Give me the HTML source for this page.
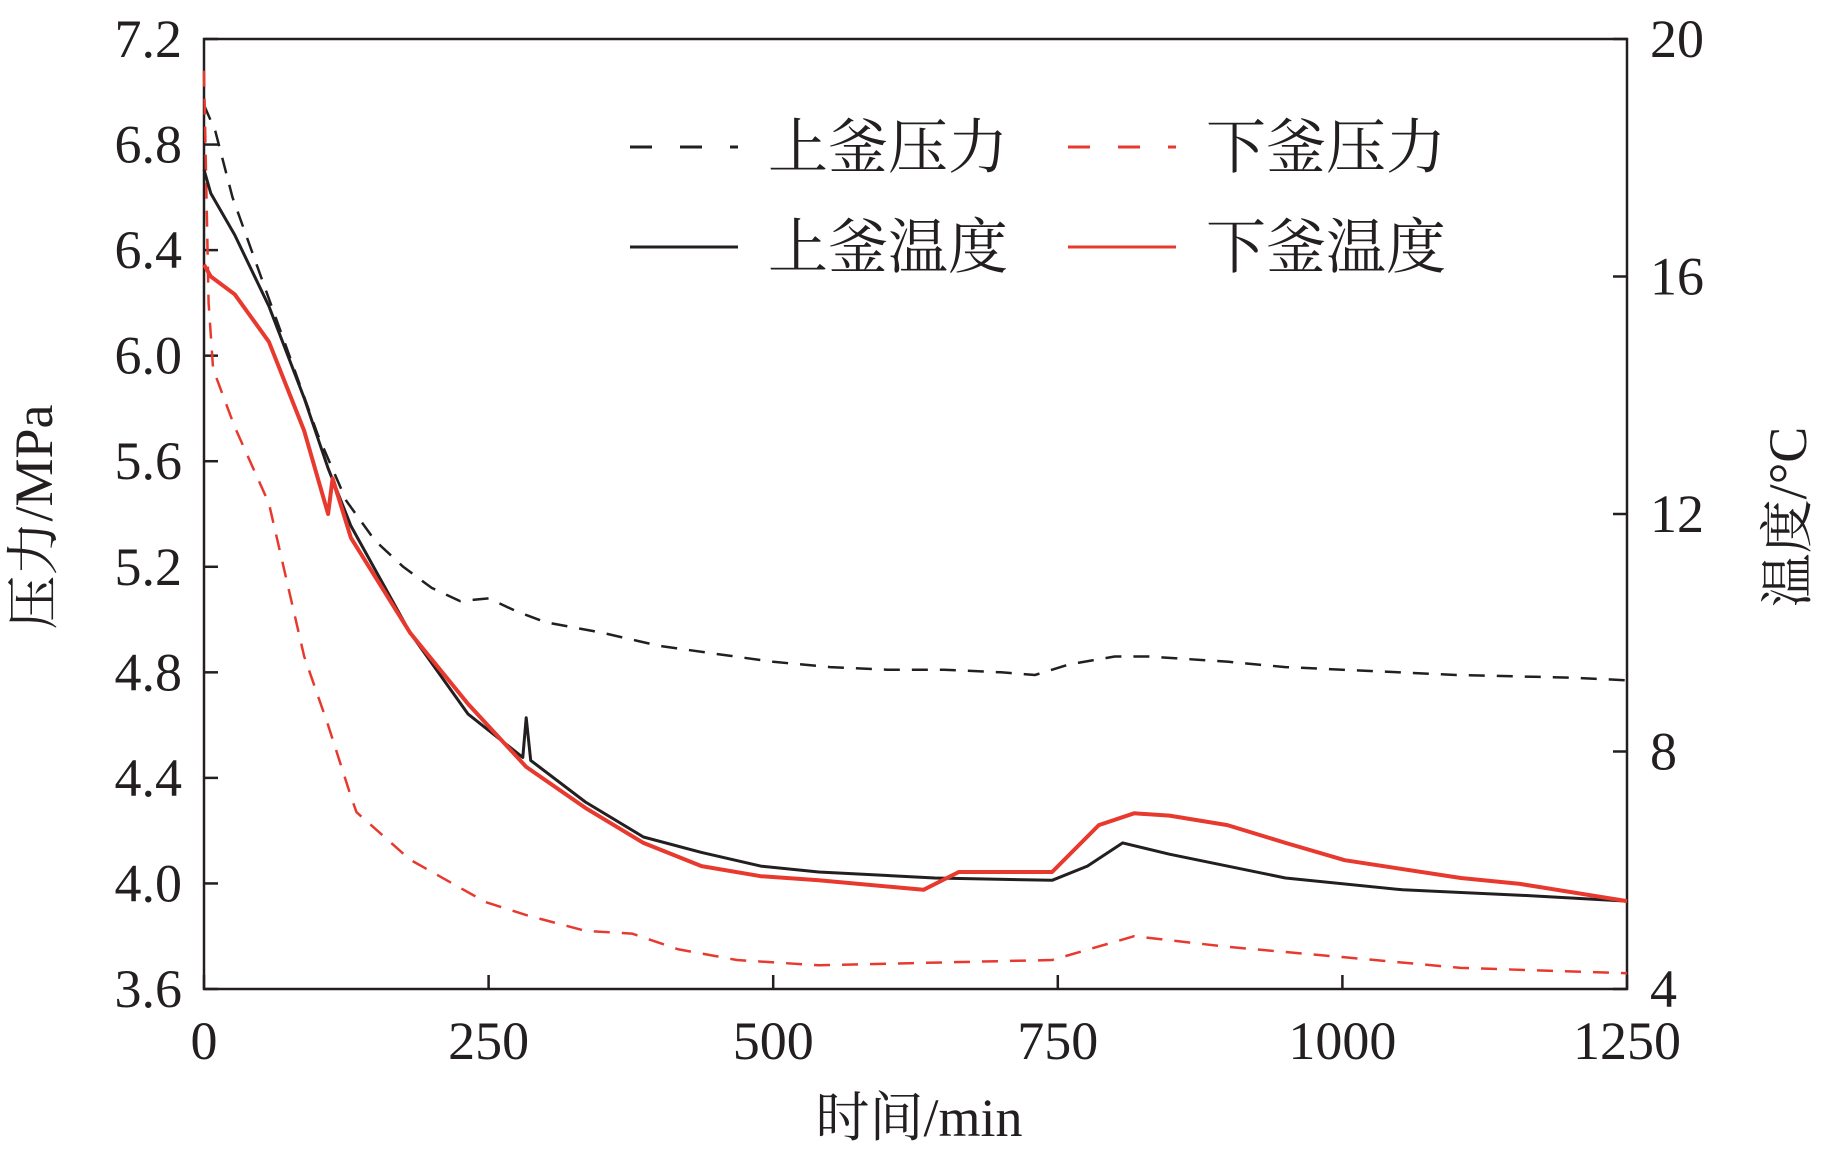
<!DOCTYPE html>
<html><head><meta charset="utf-8"><style>
body{margin:0;background:#fff}
svg text{font-family:"Liberation Serif","Noto Serif CJK SC",serif;fill:#231f20}
</style></head><body>
<svg id="chart" width="1832" height="1152" viewBox="0 0 1832 1152" xmlns="http://www.w3.org/2000/svg"></svg>
<script>
const xTicks=[0,250,500,750,1000,1250];
const pTicks=[3.6,4.0,4.4,4.8,5.2,5.6,6.0,6.4,6.8,7.2];
const tTicks=[4,8,12,16,20];
const upPT=[0,10,25,50,75,100,125,150,175,200,225,250,275,300,350,400,450,500,550,600,650,700,730,760,800,830,900,950,1000,1100,1200,1250];
const upP=[6.95,6.85,6.6,6.3,6.0,5.7,5.45,5.3,5.2,5.12,5.07,5.08,5.03,4.99,4.95,4.9,4.87,4.84,4.82,4.81,4.81,4.8,4.79,4.83,4.86,4.86,4.84,4.82,4.81,4.79,4.78,4.77];
const loPT=[0,4,8,27,57,88,109,129,134,181,247,283,335,376,417,468,540,642,745,817,899,1002,1104,1250];
const loP=[7.08,6.2,5.95,5.73,5.44,4.86,4.6,4.33,4.27,4.09,3.93,3.88,3.82,3.81,3.75,3.71,3.69,3.70,3.71,3.80,3.76,3.72,3.68,3.66];
const upTT=[0,6,27,57,88,109,129,181,232,280,283,287,335,386,437,489,540,642,745,776,807,848,950,1053,1156,1250];
const upT=[17.8,17.4,16.7,15.5,13.95,12.77,11.8,10.0,8.63,7.9,8.57,7.85,7.15,6.56,6.3,6.07,5.97,5.87,5.83,6.07,6.46,6.27,5.87,5.67,5.58,5.48];
const loTT=[0,6,27,57,88,109,113,129,181,232,283,335,386,437,489,540,632,663,745,786,817,848,899,950,1002,1104,1156,1250];
const loT=[16.2,16.0,15.7,14.9,13.4,12.0,12.6,11.6,10.0,8.8,7.74,7.05,6.46,6.07,5.9,5.83,5.67,5.97,5.97,6.76,6.96,6.92,6.76,6.46,6.17,5.87,5.77,5.48];

const L=204,R=1627,T=39,B=989;
const sx=v=>L+(v/1250)*(R-L);
const sp=v=>B-(v-3.6)/3.6*(B-T);
const st=v=>B-(v-4)/16*(B-T);
const svg=document.getElementById('chart');
const NS='http://www.w3.org/2000/svg';
function mk(tag,attrs,parent){const e=document.createElementNS(NS,tag);for(const k in attrs)e.setAttribute(k,attrs[k]);(parent||svg).appendChild(e);return e;}

const frame=mk('rect',{x:L,y:T,width:R-L,height:B-T,fill:'none',stroke:'#231f20','stroke-width':2.5});



const gx=mk('g',{});


xTicks.forEach(v=>{
  mk('line',{x1:sx(v),x2:sx(v),y1:B,y2:B-14,stroke:'#231f20','stroke-width':2.5},gx);
  const t=mk('text',{x:sx(v),y:1059,'font-size':54,'text-anchor':'middle'},gx);t.textContent=v;
  
  
});
const gl=mk('g',{});


pTicks.forEach(v=>{
  mk('line',{x1:L,x2:L+14,y1:sp(v),y2:sp(v),stroke:'#231f20','stroke-width':2.5},gl);
  const t=mk('text',{x:182,y:sp(v)+18,'font-size':54,'text-anchor':'end'},gl);t.textContent=v.toFixed(1);
  
  
});
const gr=mk('g',{});


tTicks.forEach(v=>{
  mk('line',{x1:R,x2:R-14,y1:st(v),y2:st(v),stroke:'#231f20','stroke-width':2.5},gr);
  const t=mk('text',{x:1650,y:st(v)+18,'font-size':54,'text-anchor':'start'},gr);t.textContent=v;
  
  
});
function title(txt,x,y,rot,name){const t=mk('text',{x:x,y:y,'font-size':54,'text-anchor':'middle',transform:rot?`rotate(-90 ${x} ${y})`:''});t.textContent=txt;
  
  }
title('压力/MPa',52,517,true,'left-y-axis-title');
title('温度/°C',1806,517,true,'right-y-axis-title');
title('时间/min',919,1136,false,'x-axis-title');

function series(xs,ys,scale,color,dash,w,name){
  const d=xs.map((x,i)=>(i?'L':'M')+sx(x).toFixed(1)+' '+scale(ys[i]).toFixed(1)).join(' ');
  const p=mk('path',{d:d,fill:'none',stroke:color,'stroke-width':w,'stroke-dasharray':dash||'none','stroke-linejoin':'round'});
  
  
}
series(upPT,upP,sp,'#231f20','16,12',2.5,'upper-pressure-line');
series(loPT,loP,sp,'#e8392f','16,12',2.5,'lower-pressure-line');
series(upTT,upT,st,'#231f20','',3,'upper-temperature-line');
series(loTT,loT,st,'#e8392f','',4,'lower-temperature-line');

const lg=mk('g',{});


const leg=[['上釜压力','#231f20','22,28',630,147],['下釜压力','#e8392f','22,28',1068,147],['上釜温度','#231f20','',630,247],['下釜温度','#e8392f','',1068,247]];
leg.forEach(e=>{
  const li=mk('line',{x1:e[3],x2:e[3]+108,y1:e[4],y2:e[4],stroke:e[1],'stroke-width':3,'stroke-dasharray':e[2]||'none'},lg);
  
  
  const t=mk('text',{x:e[3]+138,y:e[4]+21,'font-size':60},lg);t.textContent=e[0];
  
  
});
</script>
</body></html>
